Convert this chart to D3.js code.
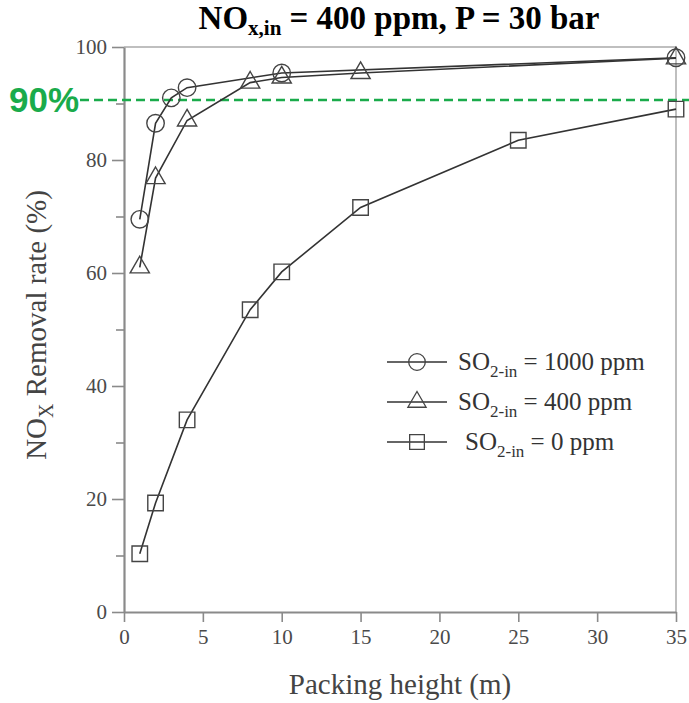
<!DOCTYPE html>
<html><head><meta charset="utf-8">
<script src="https://cdn.jsdelivr.net/npm/d3@7"></script>
<style>body{margin:0;background:#fff}</style>
</head><body>
<svg id="c" width="689" height="703"></svg>
<script>
const xTicks = [0,5,10,15,20,25,30,35];
const yTicks = [0,20,40,60,80,100];
const yMinorTicks = [10,30,50,70,90];
const seriesNames = ["1000 ppm","400 ppm","0 ppm"];
const x1000 = [1,2,3,4,10,35];
const y1000 = [69.5,86.5,91,92.8,95.4,98.1];
const x400 = [1,2,4,8,10,15,35];
const y400 = [61,76.8,87,93.7,94.6,95.4,98];
const x0 = [1,2,4,8,10,15,25,35];
const y0 = [10.3,19.3,34,53.5,60.2,71.6,83.5,89];
const targetLine = 90.6;

const svg = d3.select("#c");
const L=124, R=676, T=47, B=612;
const x = d3.scaleLinear().domain([0,35]).range([L,R]);
const y = d3.scaleLinear().domain([0,100]).range([B,T]);
const axisCol = "#8a8a8a", txtCol="#4a4a4a", lineCol="#333";
const serif = "'Liberation Serif','Times New Roman',serif";

// frame top and right
svg.append("line").attr("x1",L).attr("x2",R).attr("y1",T).attr("y2",T).attr("stroke","#aaa").attr("stroke-width",1.5);
svg.append("line").attr("x1",R).attr("x2",R).attr("y1",T).attr("y2",B).attr("stroke","#aaa").attr("stroke-width",1.5);

// axes
const xAxis = d3.axisBottom(x).tickValues(xTicks).tickSize(10).tickPadding(7).tickSizeOuter(0);
const gx = svg.append("g").attr("transform",`translate(0,${B})`).call(xAxis);
const yAxis = d3.axisLeft(y).tickValues(yTicks).tickSize(12).tickPadding(5).tickSizeOuter(0);
const gy = svg.append("g").attr("transform",`translate(${L},0)`).call(yAxis);
svg.append("g").attr("transform",`translate(${L},0)`).call(d3.axisLeft(y).tickValues(yMinorTicks).tickSize(8).tickFormat("").tickSizeOuter(0))
  .select(".domain").remove();
svg.selectAll(".domain").attr("stroke",axisCol).attr("stroke-width",2.2);
svg.selectAll(".tick line").attr("stroke",axisCol).attr("stroke-width",1.6);
svg.selectAll(".tick text").attr("fill",txtCol).style("font-family",serif).style("font-size","21px");

// green target line
svg.append("line").attr("x1",80).attr("x2",689).attr("y1",y(targetLine)).attr("y2",y(targetLine))
  .attr("stroke","#1aab4b").attr("stroke-width",2.5).attr("stroke-dasharray","9,5");
svg.append("text").attr("x",9).attr("y",y(targetLine)+12).text("90%")
  .attr("fill","#1aab4b").style("font-family","'Liberation Sans',Arial,sans-serif").style("font-weight","bold").style("font-size","35px");

// series
const sym = [d3.symbolCircle, d3.symbolTriangle, d3.symbolSquare];
const symSize = [240, 160, 240];
const data = [
  x1000.map((v,i)=>[v,y1000[i]]),
  x400.map((v,i)=>[v,y400[i]]),
  x0.map((v,i)=>[v,y0[i]])
];
const line = d3.line().x(d=>x(d[0])).y(d=>y(d[1]));
data.forEach((d,k)=>{
  svg.append("path").attr("d",line(d)).attr("fill","none").attr("stroke",lineCol).attr("stroke-width",1.6);
});
data.forEach((d,k)=>{
  svg.append("g").selectAll("path").data(d).join("path")
    .attr("transform",p=>`translate(${x(p[0])},${y(p[1])})`)
    .attr("d",d3.symbol().type(sym[k]).size(symSize[k]))
    .attr("fill","none").attr("stroke","#444").attr("stroke-width",1.4);
});

// legend
const legY = [362,402,442];
seriesNames.forEach((n,k)=>{
  const g = svg.append("g");
  g.append("line").attr("x1",387).attr("x2",447).attr("y1",legY[k]).attr("y2",legY[k]).attr("stroke",lineCol).attr("stroke-width",1.6);
  g.append("path").attr("transform",`translate(417,${legY[k]})`).attr("d",d3.symbol().type(sym[k]).size(symSize[k]*0.9)())
    .attr("fill","none").attr("stroke","#444").attr("stroke-width",1.3);
  const t = g.append("text").attr("x",k===2?465:458).attr("y",legY[k]+8).attr("fill","#333")
    .style("font-family",serif).style("font-size","25px");
  t.append("tspan").text("SO");
  t.append("tspan").attr("dy",7).style("font-size","17px").text("2-in");
  t.append("tspan").attr("dy",-7).text(" = "+n);
});

// title
const title = svg.append("text").attr("x",399).attr("y",29).attr("text-anchor","middle").attr("fill","#000")
  .style("font-family",serif).style("font-weight","bold").style("font-size","33px");
title.append("tspan").text("NO");
title.append("tspan").attr("dy",6).style("font-size","21px").text("x,in");
title.append("tspan").attr("dy",-6).text(" = 400 ppm, P = 30 bar");

// axis labels
svg.append("text").attr("x",400).attr("y",694).attr("text-anchor","middle").attr("fill","#444")
  .style("font-family",serif).style("font-size","29px").text("Packing height (m)");
const yl = svg.append("text").attr("transform",`translate(46,325) rotate(-90)`).attr("text-anchor","middle").attr("fill","#444")
  .style("font-family",serif).style("font-size","29px");
yl.append("tspan").text("NO");
yl.append("tspan").attr("dy",7).style("font-size","20px").text("X");
yl.append("tspan").attr("dy",-7).text(" Removal rate (%)");
</script>
</body></html>
